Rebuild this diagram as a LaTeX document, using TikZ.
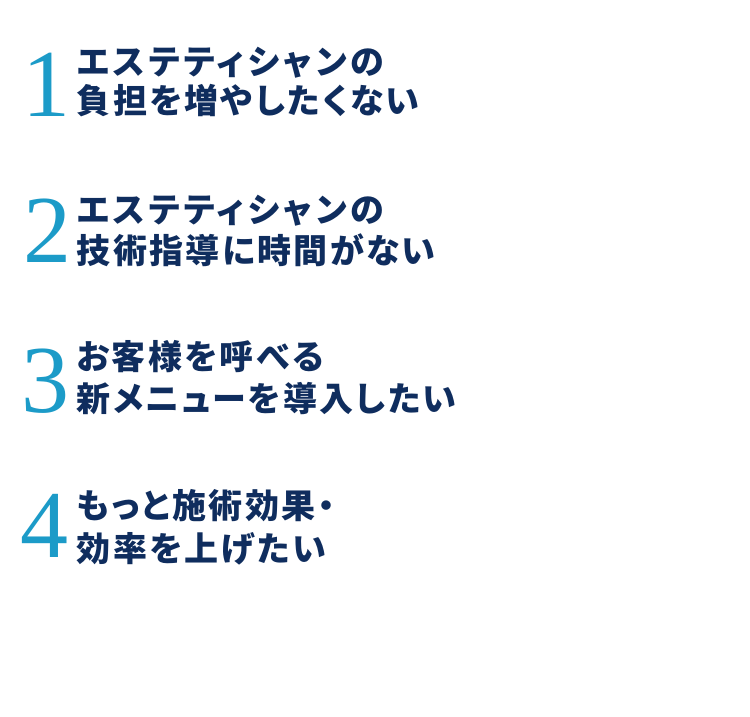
\documentclass[tikz,border=0pt]{standalone}
\usepackage{fontspec}
\newfontfamily\jp{Noto Sans CJK JP}[RawFeature=+palt, LetterSpace=7]
\newfontfamily\jpwide{Noto Sans CJK JP}[RawFeature=+palt, LetterSpace=10.7]
\newfontfamily\numfont{Liberation Serif}
\definecolor{navy}{HTML}{0F2D5E}
\definecolor{numblue}{HTML}{1C9BC8}
\tikzset{
  numstyle/.style={inner sep=0pt, text=numblue, font=\numfont\fontsize{96}{96}\selectfont, anchor=center},
  linestyle/.style={inner sep=0pt, text=navy, font=\jp\bfseries\fontsize{34}{40}\selectfont, anchor=base west},
  widelinestyle/.style={linestyle, font=\jpwide\bfseries\fontsize{34}{40}\selectfont}
}
\begin{document}
\begin{tikzpicture}[x=1pt,y=-1pt]
\useasboundingbox[fill=white] (0,0) rectangle (750,716);
% item 1
\node[numstyle] (n1) at (47,85) {1};
\node[widelinestyle] (t1a) at (76.5,74) {エステティシャンの};
\node[linestyle] (t1b) at (76.5,113) {負担を増やしたくない};
% item 2
\node[numstyle] (n2) at (47.5,231) {2};
\node[widelinestyle] (t2a) at (76.5,222) {エステティシャンの};
\node[linestyle] (t2b) at (76.5,263) {技術指導に時間がない};
% item 3
\node[numstyle] (n3) at (45.5,381) {3};
\node[linestyle] (t3a) at (76.5,369) {お客様を呼べる};
\node[linestyle] (t3b) at (76.5,411) {新メニューを導入したい};
% item 4
\node[numstyle] (n4) at (44.5,526) {4};
\node[linestyle] (t4a) at (76.5,518) {もっと施術効果・};
\node[linestyle] (t4b) at (76.5,561) {効率を上げたい};
\end{tikzpicture}
\end{document}
